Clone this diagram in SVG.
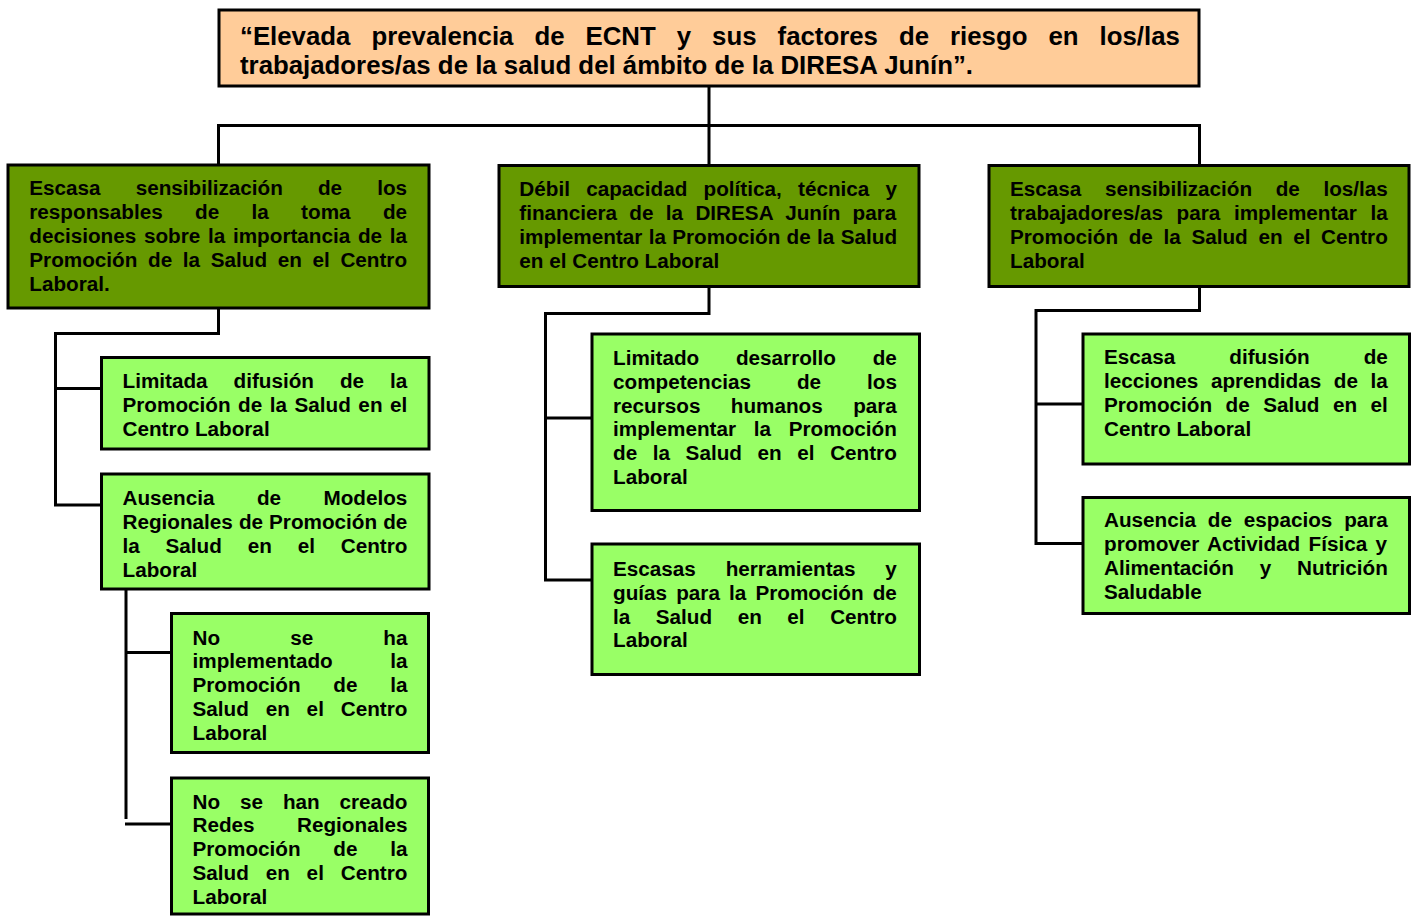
<svg xmlns="http://www.w3.org/2000/svg" width="1419" height="917" viewBox="0 0 1419 917">
<style>
.bx{stroke:#000;stroke-width:3}
.top{fill:#FFCC99}
.dk{fill:#669900}
.lt{fill:#99FF66}
.cn{fill:none;stroke:#000;stroke-width:3}
text{font-family:"Liberation Sans",Arial,Helvetica,sans-serif;font-weight:bold;fill:#000}
.t{font-size:20.7px}
.h{font-size:25.8px}
</style>
<rect width="1419" height="917" fill="#fff"/>
<g id="connectors">
<path class="cn" d="M709 87V125.5M218.5 165V125.5H1199.5V165M709 125.5V165"/>
<path class="cn" d="M218.5 309V333.5H55.5V505H101M55.5 388.5H101"/>
<path class="cn" d="M126 590V819M126 652.5H171M125 824H171"/>
<path class="cn" d="M709 287V313.5H545.5V580H591M545.5 418H591"/>
<path class="cn" d="M1199.5 287V310.5H1036V543.5H1083M1036 404H1083"/>
</g>
<g id="n0">
<rect class="bx top" x="219" y="10" width="980" height="76"/>
<text class="h" x="240" y="44.5" word-spacing="13.84">“Elevada prevalencia de ECNT y sus factores de riesgo en los/las</text>
<text class="h" x="240" y="73.5">trabajadores/as de la salud del ámbito de la DIRESA Junín”.</text>
</g>
<g id="n1">
<rect class="bx dk" x="8" y="165" width="421" height="143"/>
<text class="t" x="29.3" y="195" word-spacing="29.35">Escasa sensibilización de los</text>
<text class="t" x="29.3" y="219" word-spacing="26.6">responsables de la toma de</text>
<text class="t" x="29.3" y="243" word-spacing="1.97">decisiones sobre la importancia de la</text>
<text class="t" x="29.3" y="267" word-spacing="4.91">Promoción de la Salud en el Centro</text>
<text class="t" x="29.3" y="291">Laboral.</text>
</g>
<g id="n2">
<rect class="bx dk" x="499" y="165.5" width="420" height="121"/>
<text class="t" x="519.3" y="195.5" word-spacing="10.52">Débil capacidad política, técnica y</text>
<text class="t" x="519.3" y="219.5" word-spacing="6.58">financiera de la DIRESA Junín para</text>
<text class="t" x="519.3" y="243.5" word-spacing="0.59">implementar la Promoción de la Salud</text>
<text class="t" x="519.3" y="267.5">en el Centro Laboral</text>
</g>
<g id="n3">
<rect class="bx dk" x="989" y="165.5" width="420" height="121"/>
<text class="t" x="1010" y="195.5" word-spacing="17.85">Escasa sensibilización de los/las</text>
<text class="t" x="1010" y="219.5" word-spacing="7.88">trabajadores/as para implementar la</text>
<text class="t" x="1010" y="243.5" word-spacing="4.91">Promoción de la Salud en el Centro</text>
<text class="t" x="1010" y="267.5">Laboral</text>
</g>
<g id="n4">
<rect class="bx lt" x="101.5" y="357.5" width="327.5" height="91.5"/>
<text class="t" x="122.5" y="387.5" word-spacing="20.24">Limitada difusión de la</text>
<text class="t" x="122.5" y="411.5" word-spacing="1.78">Promoción de la Salud en el</text>
<text class="t" x="122.5" y="435.5">Centro Laboral</text>
</g>
<g id="n5">
<rect class="bx lt" x="101.5" y="474" width="327.5" height="115"/>
<text class="t" x="122.5" y="505" word-spacing="36.65">Ausencia de Modelos</text>
<text class="t" x="122.5" y="529" word-spacing="0.28">Regionales de Promoción de</text>
<text class="t" x="122.5" y="553" word-spacing="20.07">la Salud en el Centro</text>
<text class="t" x="122.5" y="577">Laboral</text>
</g>
<g id="n6">
<rect class="bx lt" x="171.5" y="613.5" width="257" height="139"/>
<text class="t" x="192.5" y="644.5" word-spacing="64.35">No se ha</text>
<text class="t" x="192.5" y="668.4" word-spacing="51.65">implementado la</text>
<text class="t" x="192.5" y="692.3" word-spacing="27">Promoción de la</text>
<text class="t" x="192.5" y="716.2" word-spacing="11.08">Salud en el Centro</text>
<text class="t" x="192.5" y="740.1">Laboral</text>
</g>
<g id="n7">
<rect class="bx lt" x="171.5" y="778" width="257" height="136"/>
<text class="t" x="192.5" y="808.5" word-spacing="14.15">No se han creado</text>
<text class="t" x="192.5" y="832.4" word-spacing="36.7">Redes Regionales</text>
<text class="t" x="192.5" y="856.3" word-spacing="27">Promoción de la</text>
<text class="t" x="192.5" y="880.2" word-spacing="11.08">Salud en el Centro</text>
<text class="t" x="192.5" y="904.1">Laboral</text>
</g>
<g id="n8">
<rect class="bx lt" x="592" y="334" width="327.5" height="176.5"/>
<text class="t" x="613" y="364.7" word-spacing="31">Limitado desarrollo de</text>
<text class="t" x="613" y="388.6" word-spacing="40.2">competencias de los</text>
<text class="t" x="613" y="412.5" word-spacing="24.65">recursos humanos para</text>
<text class="t" x="613" y="436.4" word-spacing="12">implementar la Promoción</text>
<text class="t" x="613" y="460.3" word-spacing="9.86">de la Salud en el Centro</text>
<text class="t" x="613" y="484.2">Laboral</text>
</g>
<g id="n9">
<rect class="bx lt" x="592" y="544" width="327.5" height="130.5"/>
<text class="t" x="613" y="575.7" word-spacing="24.05">Escasas herramientas y</text>
<text class="t" x="613" y="599.6" word-spacing="3.42">guías para la Promoción de</text>
<text class="t" x="613" y="623.5" word-spacing="19.8">la Salud en el Centro</text>
<text class="t" x="613" y="647.4">Laboral</text>
</g>
<g id="n10">
<rect class="bx lt" x="1083" y="334" width="326.5" height="130"/>
<text class="t" x="1104" y="364" word-spacing="48.2">Escasa difusión de</text>
<text class="t" x="1104" y="388" word-spacing="6.85">lecciones aprendidas de la</text>
<text class="t" x="1104" y="412" word-spacing="7.73">Promoción de Salud en el</text>
<text class="t" x="1104" y="436">Centro Laboral</text>
</g>
<g id="n11">
<rect class="bx lt" x="1083" y="497.5" width="326.5" height="116"/>
<text class="t" x="1104" y="527.4" word-spacing="6.08">Ausencia de espacios para</text>
<text class="t" x="1104" y="551.3" word-spacing="2.65">promover Actividad Física y</text>
<text class="t" x="1104" y="575.2" word-spacing="20.1">Alimentación y Nutrición</text>
<text class="t" x="1104" y="599.1">Saludable</text>
</g>
</svg>
